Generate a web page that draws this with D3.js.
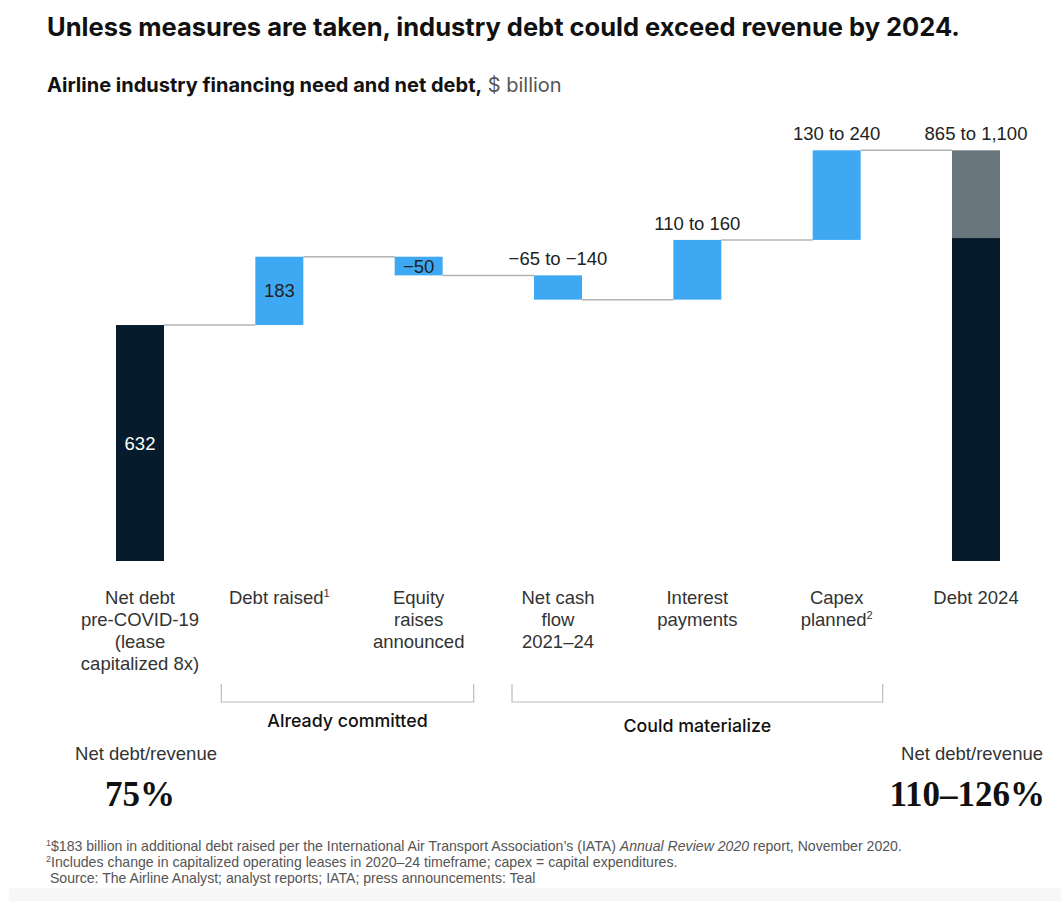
<!DOCTYPE html>
<html>
<head>
<meta charset="utf-8">
<script src="https://cdn.jsdelivr.net/npm/d3@7"></script>
<style>
  html, body { margin: 0; padding: 0; background: #fff; }
  svg { display: block; }
  text { font-family: "Liberation Sans", Arial, sans-serif; }
</style>
</head>
<body>
<svg id="chart" width="1061" height="901"></svg>
<script>
// Waterfall steps, $ billion (bars drawn at the upper end of each estimate)
const categories = ["netDebt", "debtRaised", "equity", "cashFlow", "interest", "capex", "debt2024"];
const categoryLabels = [
  ["Net debt", "pre-COVID-19", "(lease", "capitalized 8x)"],
  ["Debt raised¹"],
  ["Equity", "raises", "announced"],
  ["Net cash", "flow", "2021–24"],
  ["Interest", "payments"],
  ["Capex", "planned²"],
  ["Debt 2024"]
];
const stepValues = [632, 183, -50, -65, 160, 240, 1100];
const stepKinds = ["total", "delta", "delta", "delta", "delta", "delta", "total"];
const lowerTotal = 865;           // lower estimate of 2024 debt
const valueLabels = ["632", "183", "−50", "−65 to −140", "110 to 160", "130 to 240", "865 to 1,100"];
const labelPlacement = ["inside", "inside", "inside", "above", "above", "above", "above"];

const groups = [
  { name: "Already committed", from: "debtRaised", to: "equity" },
  { name: "Could materialize", from: "cashFlow", to: "capex" }
];
const ratioLabels = ["Net debt/revenue", "Net debt/revenue"];
const ratioValues = ["75%", "110–126%"];

const footnotes = [
  [{ t: "1", sup: true }, { t: "$183 billion in additional debt raised per the International Air Transport Association’s (IATA) " }, { t: "Annual Review 2020", it: true }, { t: " report, November 2020." }],
  [{ t: "2", sup: true }, { t: "Includes change in capitalized operating leases in 2020–24 timeframe; capex = capital expenditures." }],
  [{ t: " Source: The Airline Analyst; analyst reports; IATA; press announcements: Teal" }]
];

const C = {
  navy: "#061C2C",
  blue: "#3EA9F2",
  slate: "#69767E",
  connector: "#b4b4b4",
  text: "#222",
  note: "#555"
};

const svg = d3.select("#chart");

// faint band at the foot of the page
svg.append("rect").attr("x", 9).attr("y", 888).attr("width", 1052).attr("height", 13).attr("fill", "#f7f7f7");

// Titles
svg.append("text").attr("x", 47).attr("y", 36)
  .style("font-family", "Inter, 'Liberation Sans', sans-serif")
  .attr("font-size", 25.5).attr("font-weight", 700).attr("fill", "#111")
  .text("Unless measures are taken, industry debt could exceed revenue by 2024.");
const sub = svg.append("text").attr("x", 47).attr("y", 92)
  .style("font-family", "Inter, 'Liberation Sans', sans-serif")
  .attr("font-size", 20).attr("fill", "#111");
sub.append("tspan").attr("font-weight", 700).text("Airline industry financing need and net debt,");
sub.append("tspan").attr("font-weight", 400).attr("fill", "#555").text(" $ billion");

// Scales
const x = d3.scalePoint().domain(categories).range([140, 976]);
const y = d3.scaleLinear().domain([0, 1100]).range([561, 150.3]);
const barW = 48;
const fs = 18.5;

// cumulative levels
let running = 0;
const bars = categories.map((c, i) => {
  let y0, y1;
  if (stepKinds[i] === "total") { y0 = 0; y1 = stepValues[i]; running = stepValues[i]; }
  else { y0 = running; y1 = running + stepValues[i]; running = y1; }
  return { c, i, lo: Math.min(y0, y1), hi: Math.max(y0, y1), end: y1 };
});

// connectors between bars
const conn = svg.append("g");
bars.slice(0, -1).forEach((b, i) => {
  const next = bars[i + 1];
  conn.append("line")
    .attr("x1", x(b.c) + barW / 2).attr("x2", x(next.c) - barW / 2)
    .attr("y1", y(b.end)).attr("y2", y(b.end))
    .attr("stroke", C.connector).attr("stroke-width", 1.5);
});

// bars
const g = svg.append("g");
bars.forEach(b => {
  if (b.c === "debt2024") {
    g.append("rect").attr("x", x(b.c) - barW / 2).attr("width", barW)
      .attr("y", y(b.hi)).attr("height", y(lowerTotal) - y(b.hi)).attr("fill", C.slate);
    g.append("rect").attr("x", x(b.c) - barW / 2).attr("width", barW)
      .attr("y", y(lowerTotal)).attr("height", y(0) - y(lowerTotal)).attr("fill", C.navy);
  } else {
    g.append("rect").attr("x", x(b.c) - barW / 2).attr("width", barW)
      .attr("y", y(b.hi)).attr("height", y(b.lo) - y(b.hi))
      .attr("fill", stepKinds[b.i] === "total" ? C.navy : C.blue);
  }
});

// value labels
bars.forEach(b => {
  const inside = labelPlacement[b.i] === "inside";
  svg.append("text")
    .attr("x", x(b.c))
    .attr("y", inside ? (y(b.lo) + y(b.hi)) / 2 + 6.5 : y(b.hi) - 10)
    .attr("text-anchor", "middle").attr("font-size", fs)
    .attr("fill", inside && stepKinds[b.i] === "total" ? "#fff" : C.text)
    .text(valueLabels[b.i]);
});

// category labels (a trailing note marker is raised as a superscript)
categories.forEach((c, i) => {
  const t = svg.append("text").attr("x", x(c)).attr("y", 604)
    .attr("text-anchor", "middle").attr("font-size", fs).attr("fill", "#333");
  let shift = 0;
  categoryLabels[i].forEach((line, k) => {
    const m = line.match(/^(.*?)([¹²]?)$/);
    t.append("tspan").attr("x", x(c)).attr("dy", k === 0 ? 0 : 22 + shift).text(m[1]);
    shift = 0;
    if (m[2]) {
      t.append("tspan").attr("font-size", 11).attr("dy", -7).text(m[2] === "¹" ? "1" : "2");
      shift = 7;
    }
  });
});

// group brackets
const bracketPad = [[58, 55], [46, 46]];
groups.forEach((gr, k) => {
  const x0 = x(gr.from) - bracketPad[k][0];
  const x1 = x(gr.to) + bracketPad[k][1];
  const yb = 702;
  svg.append("path")
    .attr("d", `M${x0},${yb - 18}V${yb}H${x1}V${yb - 18}`)
    .attr("fill", "none").attr("stroke", "#bbb").attr("stroke-width", 1.2);
  svg.append("text").attr("x", (x0 + x1) / 2).attr("y", 727 + k * 5)
    .attr("text-anchor", "middle").attr("font-size", 17.8).attr("font-weight", 500)
    .style("font-family", "Inter, 'Liberation Sans', sans-serif")
    .attr("fill", "#111").text(gr.name);
});

// debt-to-revenue ratios
svg.append("text").attr("x", 146).attr("y", 760).attr("text-anchor", "middle")
  .attr("font-size", fs).attr("fill", "#333").text(ratioLabels[0]);
svg.append("text").attr("x", 140).attr("y", 806).attr("text-anchor", "middle")
  .style("font-family", "'Liberation Serif', 'DejaVu Serif', serif")
  .attr("font-size", 35).attr("font-weight", 700).attr("fill", "#111").text(ratioValues[0]);
svg.append("text").attr("x", 1043).attr("y", 760).attr("text-anchor", "end")
  .attr("font-size", fs).attr("fill", "#333").text(ratioLabels[1]);
svg.append("text").attr("x", 1045).attr("y", 806).attr("text-anchor", "end")
  .style("font-family", "'Liberation Serif', 'DejaVu Serif', serif")
  .attr("font-size", 35).attr("font-weight", 700).attr("fill", "#111").text(ratioValues[1]);

// footnotes
footnotes.forEach((parts, i) => {
  const t = svg.append("text").attr("x", 46).attr("y", 851 + i * 16)
    .attr("font-size", 14.1).attr("fill", C.note).attr("xml:space", "preserve");
  let lift = 0;
  parts.forEach(p => {
    if (p.sup) {
      t.append("tspan").attr("font-size", 9).attr("dy", -5).text(p.t);
      lift = 5;
    } else {
      t.append("tspan").attr("dy", lift || null)
        .attr("font-style", p.it ? "italic" : null).text(p.t);
      lift = 0;
    }
  });
});
</script>
</body>
</html>
